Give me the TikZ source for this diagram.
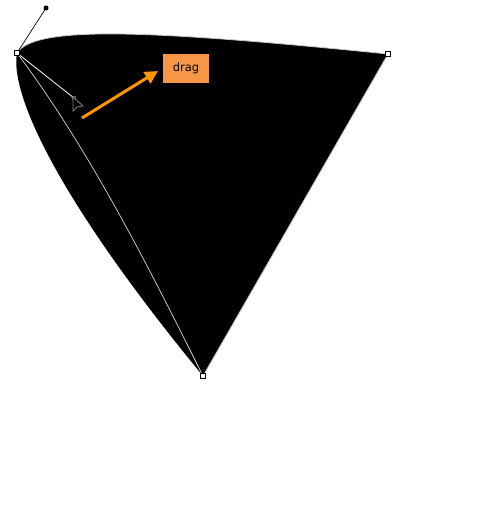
\documentclass[tikz,border=0pt]{standalone}
\usepackage{fontspec}
\setmainfont{DejaVu Sans}
\usetikzlibrary{arrows.meta}
\definecolor{boxorange}{HTML}{F79646}
\definecolor{arroworange}{HTML}{FF9600}
\definecolor{edgegray}{HTML}{C8C8C8}
\tikzset{
  anchorpt/.style={draw=black, fill=white, line width=0.8pt, minimum size=4.5pt, inner sep=0pt, outer sep=0pt},
  handledot/.style={circle, fill=black, minimum size=5pt, inner sep=0pt},
  dragbox/.style={fill=boxorange, minimum width=46pt, minimum height=28pt, inner sep=0pt, font=\fontsize{11.5}{13}\selectfont},
  dragarrow/.style={draw=arroworange, line width=3pt, -{Triangle[length=13pt,width=13pt]}},
}
\begin{document}
\begin{tikzpicture}[x=1pt,y=-1pt]
\useasboundingbox (0,0) rectangle (501,511);
% vertices
\coordinate (A) at (17,53);
\coordinate (B) at (388,54);
\coordinate (C) at (203,376);
% black shape
\fill[black] (A) .. controls (35,25) and (150,30) .. (B) -- (C) .. controls (50,190) and (10,90) .. (A) -- cycle;
% outline of path
\draw[edgegray, line width=0.8pt] (A) .. controls (35,25) and (150,30) .. (B) -- (C);
\draw[white!85!black, line width=0.7pt] (A) .. controls (92,153) and (153,276) .. (C);
% handles
\coordinate (H1) at (46,8);
\coordinate (H2) at (74,98);
\draw[black, line width=0.7pt] (A) -- (H1);
\node[handledot] (h1) at (H1) {};
\draw[white, line width=0.8pt] (A) -- (H2);
\node[draw=white!80!black, fill=black, circle, minimum size=4pt, inner sep=0pt] (h2) at (H2) {};
% cursor
\filldraw[draw=gray, fill=black, line width=0.8pt] (73,97) -- (73,111) -- (77,107) -- (83,106) -- cycle;
% anchors
\node[anchorpt] (a) at (A) {};
\node[anchorpt] (b) at (B) {};
\node[anchorpt] (c) at (C) {};
% drag label
\node[dragbox] (drag) at (186,68.5) {drag};
\coordinate (arrstart) at (82,118);
\coordinate (arrend) at (158,71);
\draw[dragarrow] (arrstart) -- (arrend);
\end{tikzpicture}
\end{document}
